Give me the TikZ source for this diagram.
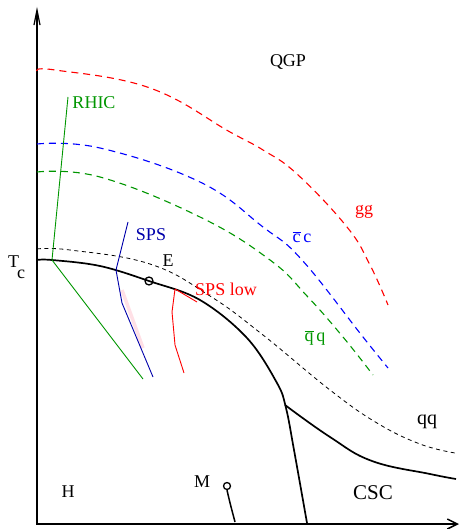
\documentclass[tikz,border=0pt]{standalone}
\usepackage{fontspec}
\setmainfont{Liberation Serif}
\usetikzlibrary{arrows.meta}
\definecolor{fgreen}{RGB}{0,150,0}
\definecolor{fnavy}{RGB}{0,0,170}
\definecolor{fpink}{RGB}{255,224,230}
\tikzset{
  lbl/.style={font=\fontsize{18}{20}\selectfont, inner sep=0pt},
  phaseline/.style={draw=black, line width=1.7pt},
  crossover/.style={draw=black, line width=0.8pt, dash pattern=on 4pt off 3.5pt},
  melt/.style={line width=1.1pt, dash pattern=on 7pt off 5pt},
  track/.style={line width=0.9pt},
  marker/.style={circle, draw=black, line width=1.3pt, inner sep=0pt, minimum size=8pt},
}

\begin{document}
\begin{tikzpicture}[x=1pt, y=-1pt]
  \useasboundingbox (0,0) rectangle (461,529);

  % axes
  \draw[line width=1.2pt, -{Straight Barb[length=15pt, width=6pt]}] (37,524) -- (37,7);
  \draw[line width=2pt] (37,222) -- (37,525);
  \draw[line width=1.5pt, -{Straight Barb[length=10pt, width=10pt]}] (36,524) -- (459,524);

  % dissociation lines
  \draw[melt, red] plot[smooth, tension=0.7] coordinates {(37,71) (55,70) (150,88) (230,132) (263,150) (297,174) (347,227) (370,265) (388,305)};
  \draw[melt, blue] plot[smooth, tension=0.7] coordinates {(37,144) (100,148) (200,182) (263,227) (302,260) (363,337) (388,368)};
  \draw[melt, fgreen] plot[smooth, tension=0.7] coordinates {(37,172) (100,177) (200,217) (270,260) (307,296) (343,337) (373,375)};

  % crossover
  \draw[crossover] plot[smooth, tension=0.7] coordinates {(37,249) (70,250) (150,264) (210,296) (263,335) (330,390) (377,423) (420,444) (455,453)};

  % transition lines
  \draw[phaseline] plot[smooth, tension=0.6] coordinates {(37,260) (52,260) (100,266) (149,281) (200,300) (247,338) (277,383) (286,408) (294,450) (307,523)};
  \draw[phaseline] plot[smooth, tension=0.7] coordinates {(285,405) (330,437) (372,461) (430,474) (456,479)};

  % trajectories
  \draw[fpink, line width=3.5pt] (122,290) -- (143,348);
  \draw[track, fgreen] (68,97) -- (52,260) -- (143,379);
  \draw[track, fnavy] (128,222) -- (116,270) -- (122,303) -- (153,377);
  \draw[track, red] (175,289) -- (172,312) -- (175,345) -- (184,373);

  % labels
  \node[lbl] (qgp) at (288,62) {QGP};
  \node[lbl, fgreen] (rhic) at (94,103) {RHIC};
  \node[lbl, red] (gg) at (364,212) {gg};
  \node[lbl, blue] (cc) at (302,237) {$\overline{\hbox{c}}$\,c};
  \node[lbl, fnavy] (sps) at (151,235) {SPS};
  \node[lbl] (e) at (168,261) {E};
  \node[lbl, red] (spslow) at (226,289) {SPS low};
  \node[lbl, fgreen] (qbarq) at (315,338) {$\overline{\hbox{q}}$\,q};
  \node[lbl, anchor=base west] (tc) at (8,267) {T\kern-2pt\raisebox{-11pt}{c}};
  \node[lbl, font=\fontsize{20}{22}\selectfont] (qq) at (427,422) {qq};
  \node[lbl, font=\fontsize{21}{24}\selectfont] (csc) at (373,493) {CSC};
  \node[lbl] (h) at (68,492) {H};
  \node[lbl] (m) at (202,482) {M};

  % end points
  \node[marker] (epoint) at (149,281) {};
  \node[marker, minimum size=7pt] (mpoint) at (227,486) {};
  \coordinate (lowtick) at (175,289);
  \coordinate (lowend) at (197,302);
  \coordinate (mfoot) at (235,522);
  \draw[red, track] (lowtick) -- (lowend);
  \draw[line width=1.5pt] (mpoint.south) .. controls (230,503) .. (mfoot);
\end{tikzpicture}
\end{document}
